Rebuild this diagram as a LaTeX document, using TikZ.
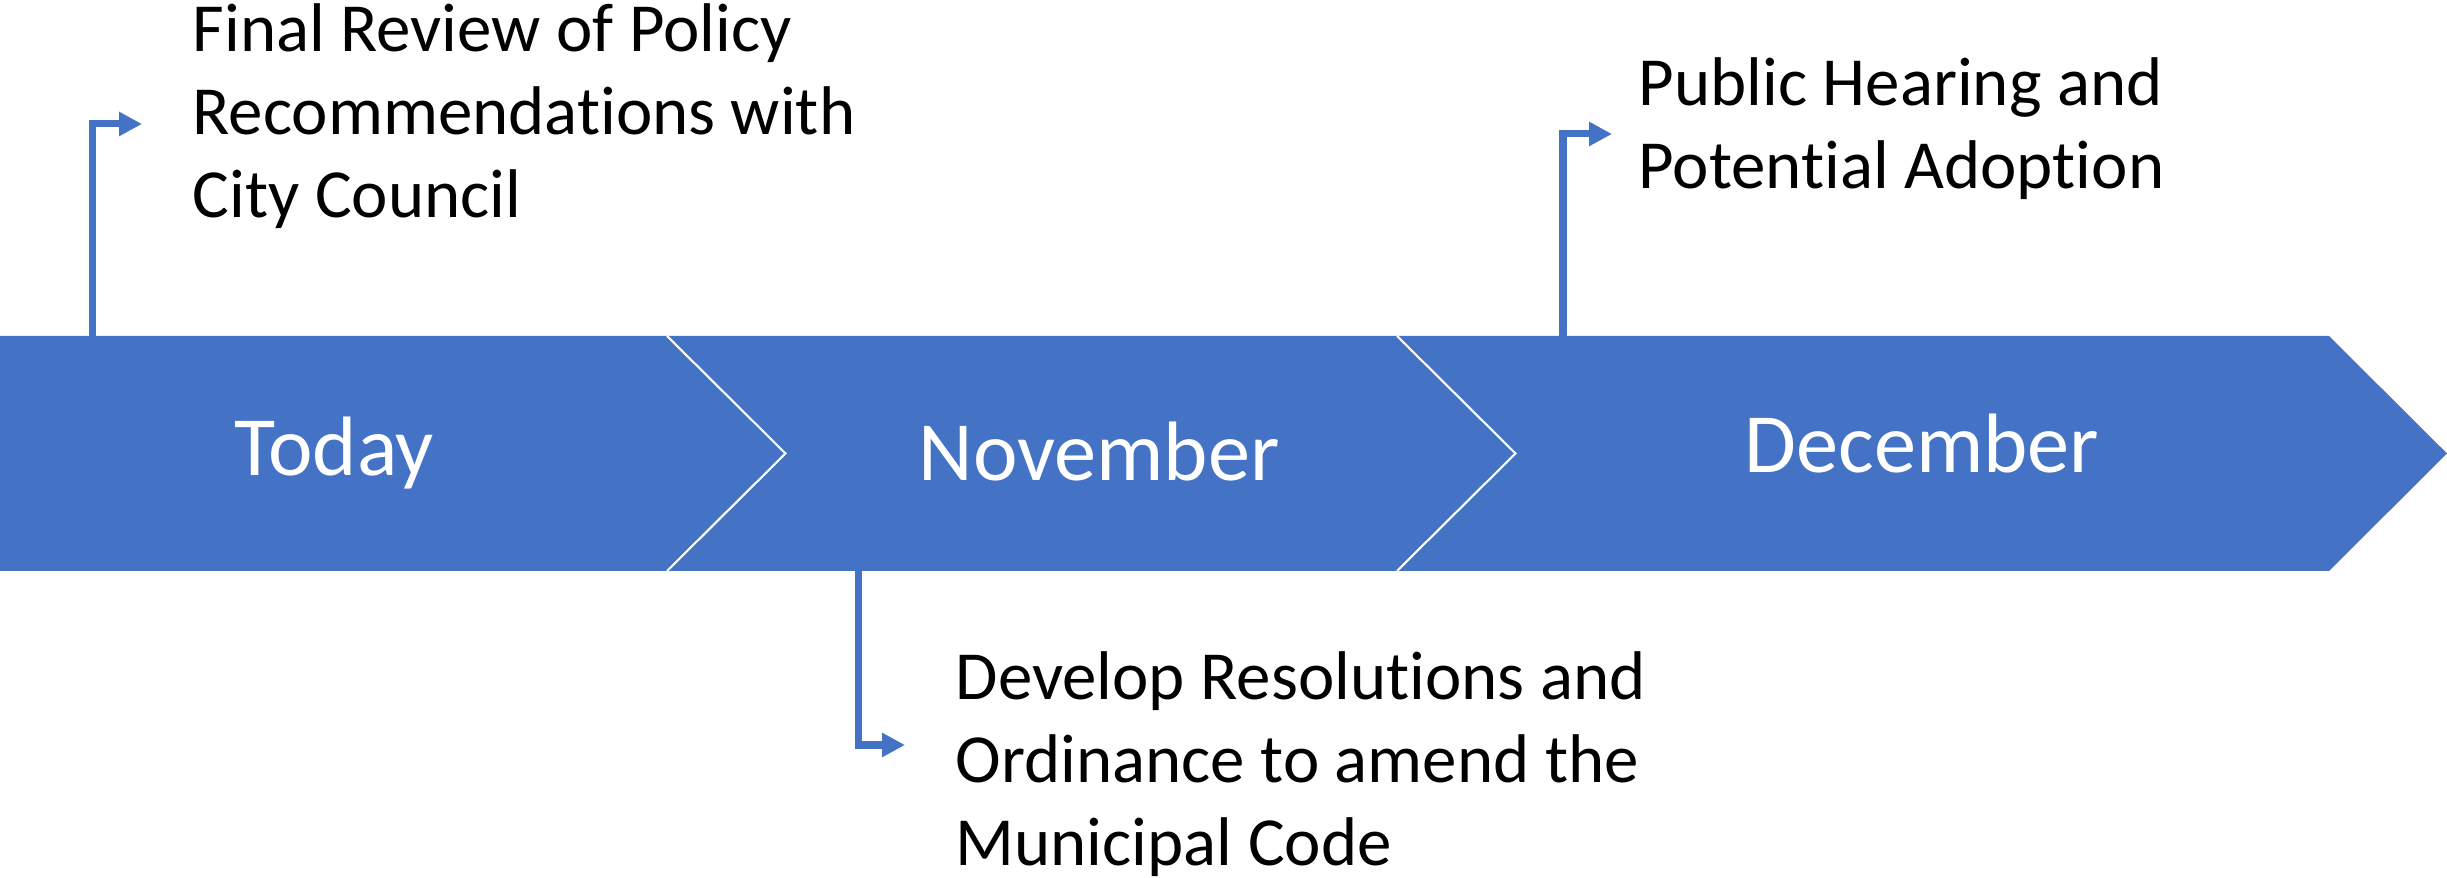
\documentclass[tikz,border=0pt]{standalone}
\usepackage{fontspec}
\setmainfont{Carlito}[Ligatures={NoCommon,NoContextual},Contextuals=NoAlternate]
\usetikzlibrary{arrows.meta}
\definecolor{obl}{HTML}{4472C4}
\newcommand\nolig{\kern0pt }
\begin{document}
\begin{tikzpicture}[x=0.1mm,y=-0.1mm,
  seg/.style={fill=obl},
  sepline/.style={draw=white,line width=0.6pt},
  lbl/.style={text=white,font=\fontsize{24}{29}\selectfont,inner sep=0pt,anchor=base},
  note/.style={font=\fontsize{19.6}{24}\selectfont,inner sep=0pt,anchor=base west},
  conn/.style={draw=obl,line width=2pt,-{Triangle[length=6.5pt,width=6.5pt]}}]
\useasboundingbox (0,0) rectangle (2447,878);
% band segments
\fill[seg] (0,336) -- (667,336) -- (785.5,453.5) -- (667,571) -- (0,571) -- cycle;
\fill[seg] (667,336) -- (1397,336) -- (1515.5,453.5) -- (1397,571) -- (667,571) -- (785.5,453.5) -- cycle;
\fill[seg] (1397,336) -- (2329,336) -- (2447,453.5) -- (2329,571) -- (1397,571) -- (1515.5,453.5) -- cycle;
\draw[sepline] (667,336) -- (785.5,453.5) -- (667,571);
\draw[sepline] (1397,336) -- (1515.5,453.5) -- (1397,571);
% band labels
\node[lbl] (today) at (334.5,476) {Today};
\node[lbl] (nov) at (1099,481) {November};
\node[lbl] (dec) at (1922,472.7) {December};
% notes
\node[note] (t1a) at (192,51.7) {Final Review of Policy};
\node[note] (t1b) at (192,135) {Recommendations with};
\node[note] (t1c) at (192,218) {City Council};
\node[note] (t2a) at (955,699.3) {Develop Resolut\nolig ions and};
\node[note] (t2b) at (955,782.5) {Ordinance to amend the};
\node[note] (t2c) at (955,866) {Municipal Code};
\node[note] (t3a) at (1638,106) {Public Hearing and};
\node[note] (t3b) at (1638,188.3) {Potent\nolig ial Adoption};
% connectors
\coordinate (s1) at (92.5,336);
\coordinate (e1) at (142,124);
\coordinate (s2) at (858.8,571);
\coordinate (e2) at (905,745);
\coordinate (s3) at (1563,336);
\coordinate (e3) at (1612,134);
\draw[conn] (s1) |- (e1);
\draw[conn] (s2) |- (e2);
\draw[conn] (s3) |- (e3);
\end{tikzpicture}
\end{document}
